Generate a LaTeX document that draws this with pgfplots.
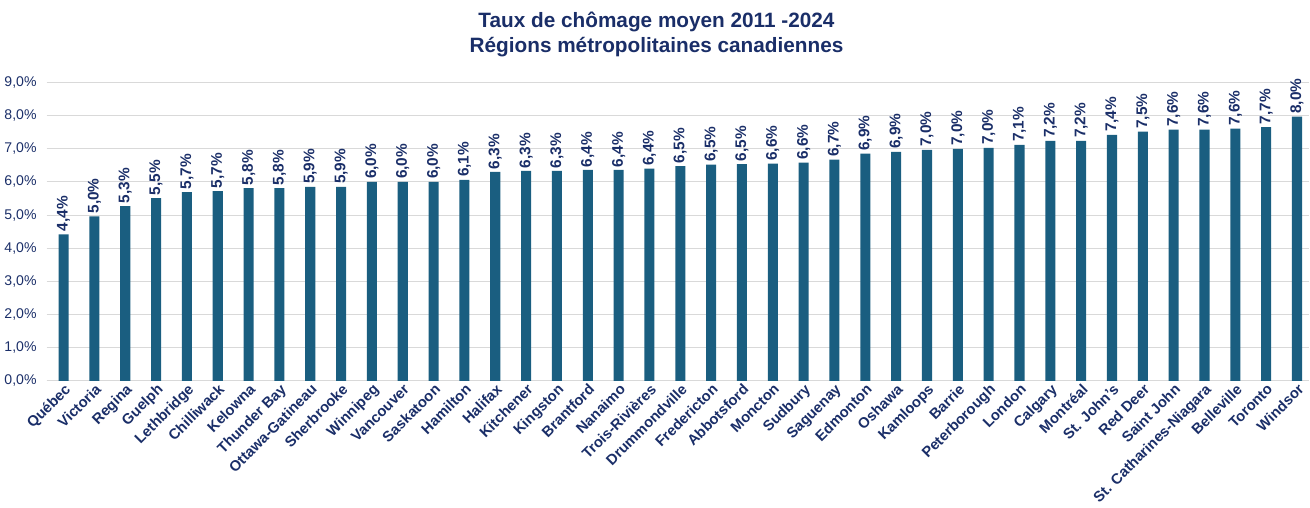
\documentclass[border=0pt]{standalone}
\usepackage{fontspec}
\setmainfont{Liberation Sans}
\usepackage{pgfplots}
\usepackage{pgfplotstable}
\pgfplotsset{compat=1.18}
\definecolor{barblue}{HTML}{1A5E80}
\definecolor{navy}{HTML}{1A2E68}
\definecolor{gridgray}{HTML}{D9D9D9}

% taux moyen 2011-2024, par RMR
\pgfplotstableread{
idx val
0 4.42
1 4.96
2 5.27
3 5.51
4 5.69
5 5.72
6 5.81
7 5.81
8 5.85
9 5.85
10 6.00
11 6.00
12 6.00
13 6.06
14 6.30
15 6.33
16 6.33
17 6.36
18 6.36
19 6.40
20 6.48
21 6.52
22 6.54
23 6.55
24 6.58
25 6.67
26 6.85
27 6.91
28 6.97
29 7.00
30 7.03
31 7.12
32 7.24
33 7.24
34 7.42
35 7.52
36 7.58
37 7.58
38 7.61
39 7.65
40 7.97
}\tauxtable

\begin{document}
\begin{tikzpicture}
\begin{axis}[
    scale only axis,
    width=943pt, height=222.75pt,
    ybar, bar width=7.5pt,
    xmin=-0.55, xmax=40.4,
    ymin=0, ymax=9,
    ytick={0,1,...,9},
    xtick=data,
    xticklabels={Québec,Victoria,Regina,Guelph,Lethbridge,Chilliwack,Kelowna,Thunder Bay,Ottawa-Gatineau,Sherbrooke,Winnipeg,Vancouver,Saskatoon,Hamilton,Halifax,Kitchener,Kingston,Brantford,Nanaimo,Trois-Rivières,Drummondville,Fredericton,Abbotsford,Moncton,Sudbury,Saguenay,Edmonton,Oshawa,Kamloops,Barrie,Peterborough,London,Calgary,Montréal,St. John's,Red Deer,Saint John,St. Catharines-Niagara,Belleville,Toronto,Windsor},
    x tick label style={rotate=45, anchor=north east, font=\fontsize{11}{13}\selectfont\bfseries, text=navy, inner sep=1pt},
    y tick label style={font=\fontsize{10.5}{12}\selectfont, text=navy, xshift=-4pt},
    /pgf/number format/assume math mode=true,
    yticklabel={\pgfmathprintnumber[fixed,fixed zerofill,precision=1,use comma]{\tick}\%},
    axis x line*=bottom,
    axis y line*=left,
    y axis line style={draw=none},
    x axis line style={gridgray, line width=1pt},
    major tick length=0pt,
    ymajorgrids=true, grid style={gridgray, line width=0.8pt},
    nodes near coords={\pgfmathprintnumber[fixed,fixed zerofill,precision=1,use comma,assume math mode=true]{\pgfplotspointmeta}\%},
    every node near coord/.append style={rotate=90, anchor=west, font=\fontsize{11.5}{13}\selectfont\bfseries, text=navy, inner sep=2pt},
    title={Taux de chômage moyen 2011 -2024\\Régions métropolitaines canadiennes},
    title style={at={(0.483,1)}, anchor=south, yshift=4.6pt, inner ysep=8.6pt, align=center, font=\fontsize{15.5}{18.75}\selectfont\bfseries, text=navy},
]
\addplot+[fill=barblue, draw=none, ybar] table[x=idx, y=val] {\tauxtable};
\end{axis}
\end{tikzpicture}
\end{document}
